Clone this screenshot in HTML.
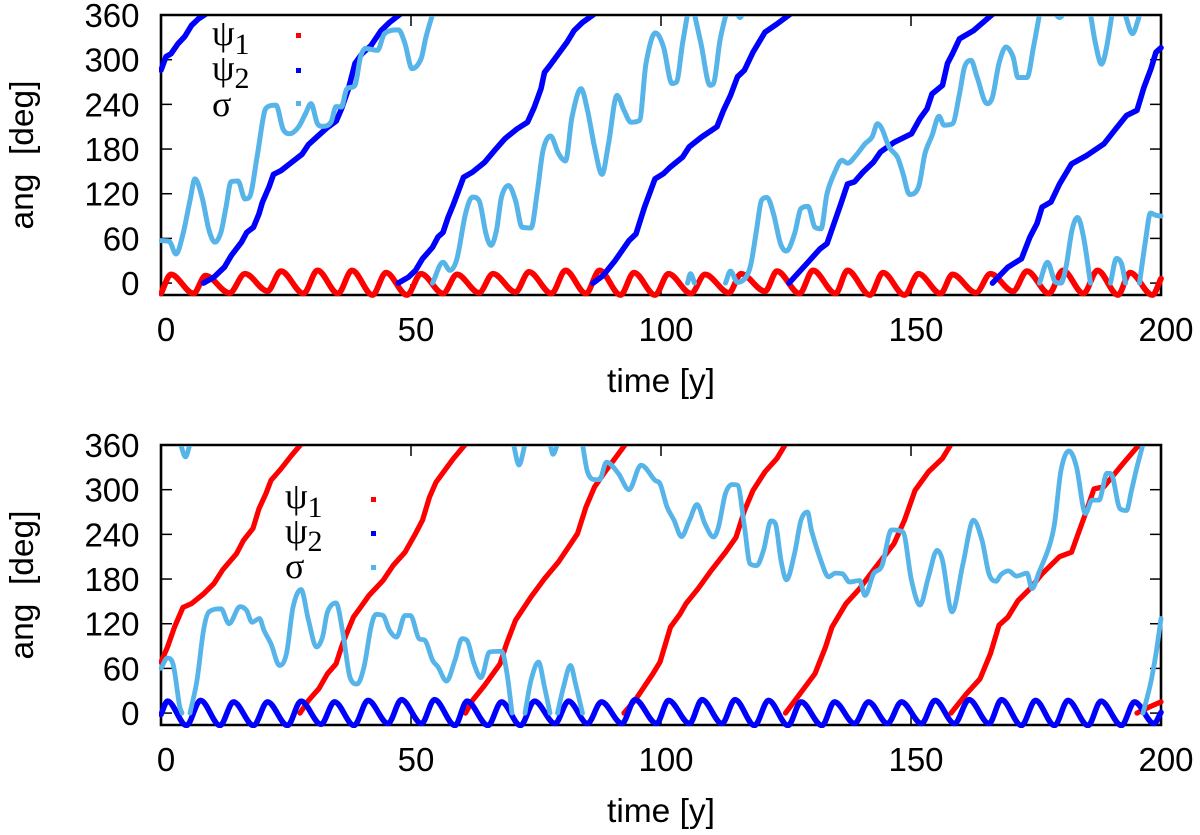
<!DOCTYPE html>
<html lang="en">
<head>
<meta charset="utf-8">
<title>Resonant angles over time</title>
<style>
html,body{margin:0;padding:0;background:#fff;}
svg{display:block;}
text{font-family:"Liberation Sans",sans-serif;fill:#000;}
.sym{font-family:"Liberation Serif","DejaVu Serif",serif;font-size:36px;}
.sub{font-size:30px;}
</style>
</head>
<body>
<svg id="chart" xmlns="http://www.w3.org/2000/svg" width="1200" height="835" viewBox="0 0 1200 835">
  <defs>
    <clipPath id="clip-top"><rect x="159" y="16" width="1005" height="282"/></clipPath>
    <clipPath id="clip-bottom"><rect x="159" y="446" width="1005" height="282"/></clipPath>
  </defs>
  <g id="panel-top"></g>
  <g id="panel-bottom"></g>

  <g>
    <text class="sym" x="212" y="45">ψ<tspan class="sub" dy="9">1</tspan></text>
    <rect x="296" y="33" width="5" height="5" fill="#ff0000"/>
    <text class="sym" x="212" y="80">ψ<tspan class="sub" dy="8">2</tspan></text>
    <rect x="296" y="68" width="5" height="5" fill="#0000ff"/>
    <text class="sym" x="212" y="116">σ</text>
    <rect x="296" y="101" width="5" height="5" fill="#56b4e9"/>
  </g>
  <g>
    <text class="sym" x="285" y="508">ψ<tspan class="sub" dy="9">1</tspan></text>
    <rect x="371" y="497" width="5" height="5" fill="#ff0000"/>
    <text class="sym" x="285" y="543">ψ<tspan class="sub" dy="8">2</tspan></text>
    <rect x="371" y="531" width="5" height="5" fill="#0000ff"/>
    <text class="sym" x="285" y="578">σ</text>
    <rect x="371" y="565" width="5" height="5" fill="#56b4e9"/>
  </g>
</svg>
<script>
// Axis tick values
const xTickValues = [0, 50, 100, 150, 200];
const yTickValues = [0, 60, 120, 180, 240, 300, 360];
const xAxisTitle = "time [y]";
const yAxisTitle = "ang\u00a0\u00a0[deg]";

// Top panel: psi1 (red)
const topPsi1Times = [0,2, 6.5,8.9, 13.7,16.8, 21.3,24, 28.5,31.3, 35.4,38.2, 42.3,45, 49.2,52, 56.4,59.2, 63.6,66.4, 70.9,73.6, 78.1,80.9, 85,87.7, 91.9,94.6, 98.8,101.5, 106,108.8, 113.6,116, 120.8,123.2, 127.7,130.4, 134.9,137.3, 141.8,144.4, 148.7,151.5, 155.9,158.3, 163,165.9, 170.4,173.2, 177.6,180.4, 184.5,187.3, 191.4,193.8, 198.3,200];
const topPsi1Values = [-14,11.6, -14,10, -13.4,12.5, -10.7,16, -14,17, -14,17, -16,14, -16,12.5, -14,11.6, -13,12.5, -12,15, -14,17, -14,17, -16,14, -16,12.5, -14,11.6, -13,12.5, -11,16, -14,17, -14,17, -16,14, -16,12.5, -14,11.6, -13,12.5, -11,16, -14,17, -14,17, -16,14, -16,6];

// Top panel: psi2 (blue); null marks a 360 to 0 wrap
const topPsi2Times = [
0,1,2,3.4,4.75,6.1,7.5,8.9,null,
8.5,10.6,12.7,14.05,16.1,17.15,18.5,19.6,20.25,21.6,22.5,24,26.1,28.2,29.5,31.3,33.3,35.05,36.1,37.5,38.8,40.2,42,44,45.7,47.8,null,
47.45,49.5,50.9,52.3,54.3,55.4,56.4,57.4,58.5,59.5,60.5,62.3,64.7,66.7,68.8,71.2,73.3,74.65,76,76.7,77.75,79.5,81.2,82.6,84.3,86.6,null,
86.4,88.4,90.8,93.6,95,96.7,98.8,100.5,101.9,104.3,105.65,108.1,111.2,112.5,113.9,115.3,116.7,118.4,120.8,123.2,125.8,null,
125.6,127.3,129.4,131.8,133.2,134.6,136,137.3,138.7,140.4,142.5,143.9,146.6,150.1,151.8,153.2,154.2,156.3,157.3,158.3,159.7,162.5,166.3,null,
166.3,169.4,172.1,173.8,175.2,176.2,178,179.7,182.1,185.2,188.6,190.7,193.1,195.2,196.6,198,199,200
];
const topPsi2Values = [
286,304,308,321.5,331,346,355,361,null,
0,8,21.5,37,55,68,75,93,108,129,146,151,162,173,186,197,209,217.6,234,261,295,308,319,339,350,361,null,
0,8,17,32.7,48,62,68,88,106,124,142,149,162,178,194,207,216,236,261,283,292,308,323.5,339,350,361,null,
0,10,30,57,66,102,140,147,156,169,183,196,210,232,252,277,286,310,337,348,361,null,
0,12.5,28,46,53,80,107,133,136,149,162.5,176,189,200.6,221,234,254,265.6,295,308,328,339,361,null,
0,21.5,32.7,62,80,102,109,133,160,171.5,187,205,225,232,263,288,310,316
];

// Top panel: sigma (light blue); null marks a wrap
const topSigmaTimes = [
0,1.65,3,4.4,5.8,6.8,8.2,9.6,10.8,12,13,14,15.4,16.8,17.7,19.2,20.6,21.4,23,24.4,25.8,27.5,28.9,30,31.3,32.3,34,35,36.1,37.1,38.8,39.9,40.9,43.3,44.7,47.5,48.8,50.2,52,53,54.3,null,
54.3,56.4,57.8,59.2,60.9,62.3,63.6,65,66,67.1,68.1,69.5,70.9,72.2,74,75.3,76.4,77.9,79.5,80.9,82.2,84,85.3,86.7,88.2,89.5,91.2,92.6,94,95.7,97,98.9,100.5,102.2,103.1,104.3,105.3,null,
105.3,105.9,106.7,null,
106.7,108,109.8,110.5,111.8,113,null,
112.9,113.9,115.3,117,118,119.1,120.1,121.2,122.5,123.9,125.1,126.7,128,129.4,130.8,132,133.2,134.9,136.2,137.3,139,140.8,142.2,143.3,144.2,145.6,147.3,148.4,149.7,151.5,152.8,154.2,155.6,156.6,158.3,159.7,160.7,162,163.2,165.2,166.3,167.6,169,170.4,171.4,173.2,174.5,175.7,null,
115.3,115.8,116.3,null,
175.7,177.3,178.9,180,181,182.2,183.3,184.5,185.9,null,
178.9,179.7,180.5,null,
185.9,186.9,188.1,189,190.2,null,
189.9,191.1,192.1,192.9,null,
192.8,194.3,195.5,195.7,null,
195.7,196.9,197.9,199,200
];
const topSigmaValues = [
57,56,39,66,111,140,115.5,71,55,68.5,102,136,137,113,115.5,169,227.5,237,239,207,200.6,209.6,227.5,241,214,210.5,216,237,236.5,260,265.6,303.6,315,312.6,335,340,321.5,288,301,330.5,361,null,
0,28,17,33,93,115.5,111,66,50.6,71,115.5,131,111,75,74,124.5,178,197.5,174,164,223,261,232,183,146,187,252,232,216,218.5,295,336,317,268,270,321.5,361,null,
0,12.5,0,null,
361,321.5,265.6,268,326,361,null,
0,16,1,8,26,71,111,115,93,53,43,66,100,103,75,73,120,151,165,161,171.5,187,196,214,207,183,169,147,119,129,174,198,224,212,214,254,290,299,277,241,250,295,317,304,276,276,317,361,null,
361,356.5,361,null,
0,28,1.3,0,21.5,71,88,62,0,null,
361,356.5,361,null,
361,321.5,294,312.6,361,null,
0,33,26,0,null,
361,335,355,361,null,
0,57,94,91,90
];

// Bottom panel: psi1 (red)
const bottomPsi1Times = [
0,1.3,2.7,4.4,6.1,8.5,10.6,12.3,15.1,16.5,18.4,19.6,21,22,24,26.1,28,null,
27.8,29.5,31.6,33.3,35,36.1,37.1,38.5,39.9,41.6,44.4,46.4,48.8,50.9,52.3,53.7,55,56.75,58.5,60.9,null,
60.9,62.3,64.7,67.8,69.1,70.9,74,76.7,79.5,81.5,83.3,85,86.7,88.8,90.8,92.9,null,
92.6,95,98.4,99.8,101.9,103.8,105,107.4,110.1,112.9,115,116.7,118.4,120.8,123.2,124.9,null,
124.9,127.3,130.8,132.9,134.2,137,139.7,142.5,146.6,148.7,150.8,153.5,156.3,158,null,
158,161.1,163.8,165.9,167.6,169.4,171.4,173.8,176.2,179.7,182.1,184.9,186.6,188.6,192.4,195.2,195.9,null,
195.2,197.6,200
];
const bottomPsi1Values = [
68.5,88.7,115.5,142,147,160,174,192,214,232,248,274.5,295,312.6,328,346,361,null,
0,17,33,53,66,88.7,106.6,129,142,158,178,198,216,241,259,290,310,326,342,361,null,
0,17,37,66,93,124.5,156,180.5,203,223,241,276.8,303.6,324,342,361,null,
0,19,53,68.5,115.5,133,147,167,192,216,236,272,299,324,342,361,null,
0,21.5,53,88.7,115.5,147,167,192,227.5,259,299,324,342,361,null,
0,26,46,80,118,129,151,167,187,210,216,268,301,304,335,357,361,null,
0,8,15
];

// Bottom panel: psi2 (blue)
const bottomPsi2Times = [0,1.3, 5.1,7.9, 11.8,14.5, 18.5,21.3, 25.3,28, 32,34.7, 38.6,41.4, 45.4,48.1, 52.1,54.7, 58.8,61.2, 65.4,68.1, 71.9,74.7, 78.8,81.5, 85.3,88.1, 92.2,94.8, 99.1,101.5, 105.7,108.2, 112.2,114.8, 118.7,121.5, 125.4,128, 132.2,134.7, 138.7,141.5, 145.3,148.1, 152.1,154.8, 158.7,161.6, 165.6,168.1, 172.1,174.9, 178.7,181.4, 185.4,188, 192.1,194.7, 198.6,200];
const bottomPsi2Values = [-2,16, -16.6,17, -16.6,15, -16.6,15, -16.6,16, -15,15, -16.6,17, -14,18, -14,18, -16.6,16, -16.6,15, -16.6,16, -14,16, -14,15, -14,18, -14,17, -14,18, -14,18, -16.6,17, -16.6,15, -16.6,15, -14,15, -14,15, -14,17, -14,18, -14,18, -16.6,17, -16.6,17, -16.6,16, -16.6,15, -14,1];

// Bottom panel: sigma (light blue)
const bottomSigmaTimes = [
0,1.3,2.4,3.7,4.2,null,
3.9,4.9,5.8,null,
5.8,7.2,8.5,9.6,12,13.6,15.8,17.1,18.2,19.7,20.6,22,23.7,25.1,26.4,28,29.5,31.1,32.3,33.3,35,36.4,37.8,39.2,40.6,42,43,44.4,45.7,47.1,48.8,49.9,51.6,52.8,54.3,55.4,57.1,58.8,60.2,61.2,62.6,64,65.7,68.1,69.2,70.2,null,
70.5,71.6,72.8,null,
72.8,74,75.5,76.7,77.8,null,
77.8,78.4,79.3,null,
79.3,80.5,81.9,82.9,84.3,null,
84.3,85.3,86.7,87.7,89.1,91.5,93.6,96,98.8,99.8,101.2,102.6,104.1,105.7,107.2,108.8,110.5,111.5,112.9,114.3,115.3,116.7,117.8,119.1,120.5,122,122.9,124,125.1,126.7,128,129.3,130.1,132.2,133.5,134.9,136.3,137.7,139.7,140.8,142.5,144.2,146.1,148.4,150.1,151.8,153.5,155.2,156.3,158.2,160.4,162.5,164.2,165.6,167,168,169.5,171.1,173.2,174.2,175.6,177.6,178.7,180,181.6,183.1,184.9,186.2,187.6,189.2,190,191.8,193.1,194.1,195.2,196.4,null,
196.4,197.9,199,200
];
const bottomSigmaValues = [
60,74,66,10,0,null,
361,344,361,null,
0,44,111,136,140,120,143,138,122,127,111,93,64,80,142,166,124.5,88.7,102,136,148,106.6,48,39,62,115.5,132.6,131,111,102,131,131,100,97.6,71,62,43,71,100,97.6,66,47.5,82,83,53,0,null,
361,333,361,null,
0,44,68.5,35,0,null,
361,347.5,361,null,
0,35,64,39.4,0,null,
361,324,313.5,313.5,337,321.5,300,333,312.6,308,277,259,237,259,280,254,236.5,250,295,307,306,250,200.6,198,218.5,258,254,205,179,214,259,270,245,200.6,183,188,187,176,178,158,187,198,246,243,178,145,183,218.5,205,136,200.6,259,232,187,177,186,191,184,188,167,189,223,254,326,352,330.5,268,286,286,322,321.5,274.5,272,299,330.5,361,null,
0,39.4,80,127
];

const colorPsi1 = "#ff0000";
const colorPsi2 = "#0000ff";
const colorSigma = "#56b4e9";
const NS = "http://www.w3.org/2000/svg";
const plotLeft = 161, plotRight = 1161, plotTopOffset = 15, plotBottomOffset = 295;
const xMin = 0, xMax = 200, yMin = -16, yMax = 360;

function xScale(t) { return plotLeft + (t - xMin) / (xMax - xMin) * (plotRight - plotLeft); }
function yScale(v, offset) { return offset + plotBottomOffset - (v - yMin) / (yMax - yMin) * (plotBottomOffset - plotTopOffset); }

// Straight segments through one run of points
function linearPath(px, py) {
  let s = "";
  for (let i = 0; i < px.length; i++) s += (i ? "L" : "M") + px[i].toFixed(2) + " " + py[i].toFixed(2);
  return s;
}

// Hermite cubic through one run of points, flat at local extrema
function smoothPath(px, py) {
  const n = px.length;
  if (n < 2) return "";
  const d = [], m = [];
  for (let i = 0; i < n - 1; i++) d.push((py[i + 1] - py[i]) / Math.max(px[i + 1] - px[i], 0.01));
  m.push(d[0]);
  for (let i = 1; i < n - 1; i++) {
    if (d[i - 1] * d[i] <= 0) { m.push(0); continue; }
    const c = (py[i + 1] - py[i - 1]) / (px[i + 1] - px[i - 1]);
    m.push(Math.sign(c) * Math.min(Math.abs(c), 3 * Math.abs(d[i - 1]), 3 * Math.abs(d[i])));
  }
  m.push(d[n - 2]);
  let s = "M" + px[0].toFixed(2) + " " + py[0].toFixed(2);
  for (let i = 0; i < n - 1; i++) {
    const h = (px[i + 1] - px[i]) / 3;
    s += "C" + (px[i] + h).toFixed(2) + " " + (py[i] + m[i] * h).toFixed(2) + " " +
      (px[i + 1] - h).toFixed(2) + " " + (py[i + 1] - m[i + 1] * h).toFixed(2) + " " +
      px[i + 1].toFixed(2) + " " + py[i + 1].toFixed(2);
  }
  return s;
}

function seriesPath(times, values, offset, builder) {
  let s = "", px = [], py = [];
  const n = Math.min(times.length, values.length);
  for (let i = 0; i < n; i++) {
    if (times[i] === null || values[i] === null) {
      s += builder(px, py); px = []; py = [];
      continue;
    }
    px.push(xScale(times[i]));
    py.push(yScale(values[i], offset));
  }
  return s + builder(px, py);
}

function drawSeries(group, times, values, offset, color, width, clipId, name, builder) {
  const p = document.createElementNS(NS, "path");
  p.setAttribute("d", seriesPath(times, values, offset, builder));
  p.setAttribute("fill", "none");
  p.setAttribute("stroke", color);
  p.setAttribute("stroke-width", width);
  p.setAttribute("stroke-linejoin", "round");
  p.setAttribute("stroke-linecap", "round");
  p.setAttribute("clip-path", "url(#" + clipId + ")");
  
  
  group.appendChild(p);
}

function addTick(group, x1, y1, x2, y2) {
  const l = document.createElementNS(NS, "line");
  l.setAttribute("x1", x1); l.setAttribute("y1", y1);
  l.setAttribute("x2", x2); l.setAttribute("y2", y2);
  l.setAttribute("stroke", "#000");
  l.setAttribute("stroke-width", "1.5");
  
  
  group.appendChild(l);
}

function addText(group, str, x, y, size, anchor, name) {
  const t = document.createElementNS(NS, "text");
  t.setAttribute("x", x);
  t.setAttribute("y", y);
  t.setAttribute("font-size", size);
  t.setAttribute("text-anchor", anchor);
  t.textContent = str;
  
  
  group.appendChild(t);
  return t;
}

function drawAxes(group, offset) {
  const top = offset + plotTopOffset, bottom = offset + plotBottomOffset;
  const frame = document.createElementNS(NS, "path");
  frame.setAttribute("d", "M" + plotLeft + " " + top + "H" + plotRight + "V" + bottom + "H" + plotLeft + "Z");
  frame.setAttribute("fill", "none");
  frame.setAttribute("stroke", "#000");
  frame.setAttribute("stroke-width", "2.6");
  
  
  group.appendChild(frame);
  xTickValues.forEach(function (v) {
    const x = xScale(v);
    addTick(group, x, top, x, top + 11);
    addTick(group, x, bottom, x, bottom - 11);
    addText(group, String(v), x + 5, offset + 341, 33, "middle", "x-tick-label");
  });
  yTickValues.forEach(function (v) {
    const y = yScale(v, offset);
    addTick(group, plotLeft, y, plotLeft + 11, y);
    addTick(group, plotRight, y, plotRight - 11, y);
    addText(group, String(v), 139.5, y + 12, 33, "end", "y-tick-label");
  });
  addText(group, xAxisTitle, 661, offset + 392, 33.5, "middle", "x-axis-title");
  const cy = offset + 155;
  const title = addText(group, yAxisTitle, 0, 0, 33.5, "middle", "y-axis-title");
  title.setAttribute("transform", "translate(33 " + cy + ") rotate(-90)");
}

const panelTop = document.getElementById("panel-top");
const panelBottom = document.getElementById("panel-bottom");
drawAxes(panelTop, 0);
drawSeries(panelTop, topPsi1Times, topPsi1Values, 0, colorPsi1, 5.8, "clip-top", "series-psi1", smoothPath);
drawSeries(panelTop, topPsi2Times, topPsi2Values, 0, colorPsi2, 5.6, "clip-top", "series-psi2", linearPath);
drawSeries(panelTop, topSigmaTimes, topSigmaValues, 0, colorSigma, 5, "clip-top", "series-sigma", smoothPath);
drawAxes(panelBottom, 430);
drawSeries(panelBottom, bottomPsi1Times, bottomPsi1Values, 430, colorPsi1, 5.2, "clip-bottom", "series-psi1", linearPath);
drawSeries(panelBottom, bottomPsi2Times, bottomPsi2Values, 430, colorPsi2, 5.6, "clip-bottom", "series-psi2", smoothPath);
drawSeries(panelBottom, bottomSigmaTimes, bottomSigmaValues, 430, colorSigma, 4.8, "clip-bottom", "series-sigma", smoothPath);
</script>
</body>
</html>
